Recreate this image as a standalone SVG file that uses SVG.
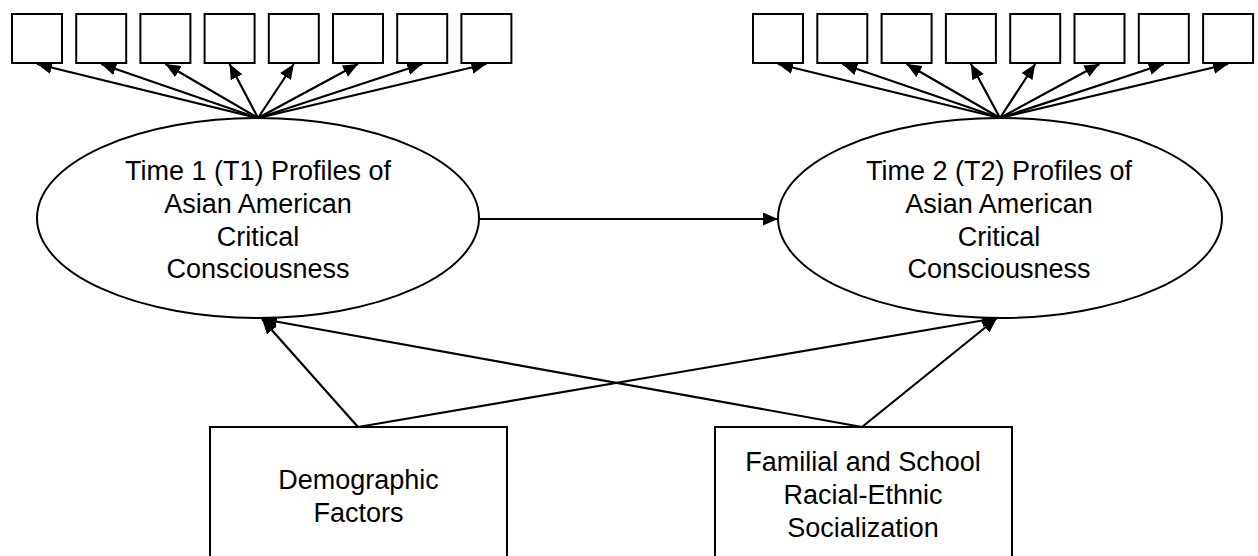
<svg xmlns="http://www.w3.org/2000/svg" width="1258" height="556" viewBox="0 0 1258 556">
<style>
.box{fill:#fff;stroke:#000;stroke-width:2}
.ell{fill:#fff;stroke:#000;stroke-width:2}
.ln{stroke:#000;stroke-width:2.2;fill:none;marker-end:url(#ah)}
.t{font-family:"Liberation Sans",Arial,sans-serif;font-size:27px;fill:#000;text-anchor:middle}
</style>
<defs>
<marker id="ah" markerUnits="userSpaceOnUse" markerWidth="16" markerHeight="14" refX="15" refY="6.5" orient="auto">
<path d="M0,0 L15,6.5 L0,13 z" fill="#000"/>
</marker>
</defs>
<g id="connectors">
<line class="ln" x1="258" y1="118" x2="37" y2="64"/>
<line class="ln" x1="258" y1="118" x2="101.2" y2="64"/>
<line class="ln" x1="258" y1="118" x2="165.4" y2="64"/>
<line class="ln" x1="258" y1="118" x2="229.6" y2="64"/>
<line class="ln" x1="258" y1="118" x2="293.8" y2="64"/>
<line class="ln" x1="258" y1="118" x2="358" y2="64"/>
<line class="ln" x1="258" y1="118" x2="422.2" y2="64"/>
<line class="ln" x1="258" y1="118" x2="486.4" y2="64"/>
<line class="ln" x1="1000" y1="118" x2="778" y2="64"/>
<line class="ln" x1="1000" y1="118" x2="842.3" y2="64"/>
<line class="ln" x1="1000" y1="118" x2="906.6" y2="64"/>
<line class="ln" x1="1000" y1="118" x2="970.9" y2="64"/>
<line class="ln" x1="1000" y1="118" x2="1035.2" y2="64"/>
<line class="ln" x1="1000" y1="118" x2="1099.5" y2="64"/>
<line class="ln" x1="1000" y1="118" x2="1163.8" y2="64"/>
<line class="ln" x1="1000" y1="118" x2="1228.1" y2="64"/>
<line class="ln" x1="480" y1="219" x2="778" y2="219"/>
<line class="ln" x1="358" y1="427" x2="262" y2="319"/>
<line class="ln" x1="358" y1="427" x2="997" y2="318"/>
<line class="ln" x1="862" y1="427" x2="262" y2="319"/>
<line class="ln" x1="862" y1="427" x2="997" y2="318"/>
</g>
<g id="indicators-t1">
<rect class="box" x="12" y="14" width="50" height="49"/>
<rect class="box" x="76.2" y="14" width="50" height="49"/>
<rect class="box" x="140.4" y="14" width="50" height="49"/>
<rect class="box" x="204.6" y="14" width="50" height="49"/>
<rect class="box" x="268.8" y="14" width="50" height="49"/>
<rect class="box" x="333" y="14" width="50" height="49"/>
<rect class="box" x="397.2" y="14" width="50" height="49"/>
<rect class="box" x="461.4" y="14" width="50" height="49"/>
</g>
<g id="indicators-t2">
<rect class="box" x="753" y="14" width="50" height="49"/>
<rect class="box" x="817.3" y="14" width="50" height="49"/>
<rect class="box" x="881.6" y="14" width="50" height="49"/>
<rect class="box" x="945.9" y="14" width="50" height="49"/>
<rect class="box" x="1010.2" y="14" width="50" height="49"/>
<rect class="box" x="1074.5" y="14" width="50" height="49"/>
<rect class="box" x="1138.8" y="14" width="50" height="49"/>
<rect class="box" x="1203.1" y="14" width="50" height="49"/>
</g>
<g id="t1">
<ellipse class="ell" cx="258" cy="218" rx="221" ry="100"/>
<text class="t" x="258" y="180">Time 1 (T1) Profiles of</text>
<text class="t" x="258" y="213">Asian American</text>
<text class="t" x="258" y="246">Critical</text>
<text class="t" x="258" y="278">Consciousness</text>
</g>
<g id="t2">
<ellipse class="ell" cx="1000" cy="218" rx="222" ry="100"/>
<text class="t" x="999" y="180">Time 2 (T2) Profiles of</text>
<text class="t" x="999" y="213">Asian American</text>
<text class="t" x="999" y="246">Critical</text>
<text class="t" x="999" y="278">Consciousness</text>
</g>
<g id="demographic">
<rect class="box" x="210" y="427" width="297" height="140"/>
<text class="t" x="358.5" y="489">Demographic</text>
<text class="t" x="358.5" y="522">Factors</text>
</g>
<g id="socialization">
<rect class="box" x="715" y="427" width="297" height="140"/>
<text class="t" x="863" y="471">Familial and School</text>
<text class="t" x="863" y="504">Racial-Ethnic</text>
<text class="t" x="863" y="537">Socialization</text>
</g>
</svg>
